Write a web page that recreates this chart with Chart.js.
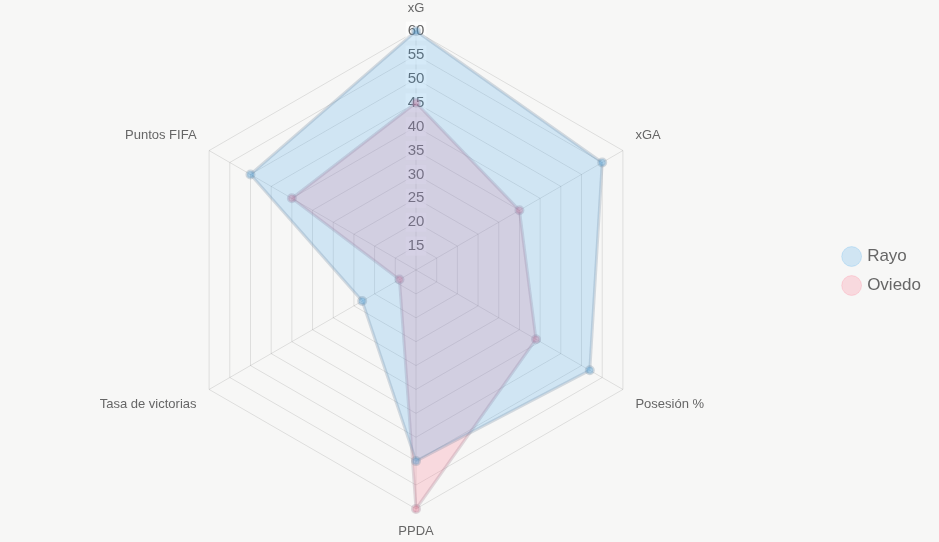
<!DOCTYPE html>
<html>
<head>
<meta charset="utf-8">
<script src="https://cdn.jsdelivr.net/npm/chart.js@4"></script>
<style>
  html, body { margin: 0; padding: 0; background: #f7f7f6; }
  #wrap { width: 939px; height: 542px; }
</style>
</head>
<body>
<div id="wrap"><canvas id="radarChart"></canvas></div>
<script>
const labels = ['xG', 'xGA', 'Posesión %', 'PPDA', 'Tasa de victorias', 'Puntos FIFA'];
const rayo = [60, 55, 52, 50, 23, 50];
const oviedo = [45, 35, 39, 60, 14, 40];

new Chart(document.getElementById('radarChart'), {
  type: 'radar',
  data: {
    labels,
    datasets: [{
      label: 'Rayo',
      data: rayo,
      backgroundColor: 'rgba(54, 162, 235, 0.2)',
      borderColor: 'rgba(110, 135, 160, 0.28)',
      borderWidth: 3,
      pointBackgroundColor: 'rgba(54, 162, 235, 0.3)',
      pointBorderColor: 'rgba(110, 135, 160, 0.3)',
      pointRadius: 3.5,
    }, {
      label: 'Oviedo',
      data: oviedo,
      backgroundColor: 'rgba(255, 99, 132, 0.2)',
      borderColor: 'rgba(160, 125, 145, 0.28)',
      borderWidth: 3,
      pointBackgroundColor: 'rgba(255, 99, 132, 0.3)',
      pointBorderColor: 'rgba(160, 125, 145, 0.3)',
      pointRadius: 3.5,
    }]
  },
  options: {
    responsive: true,
    maintainAspectRatio: false,
    animation: false,
    layout: { padding: { top: 2, bottom: 2, right: 8 } },
    plugins: {
      legend: {
        position: 'right',
        labels: {
          usePointStyle: true,
          pointStyle: 'circle',
          boxWidth: 14,
          boxHeight: 14,
          padding: 12,
          color: '#666',
          font: { size: 17 },
          generateLabels(chart) {
            return chart.data.datasets.map((ds, i) => ({
              text: ds.label,
              fillStyle: ds.backgroundColor,
              strokeStyle: ds.backgroundColor,
              lineWidth: 1,
              pointStyle: 'circle',
              fontColor: '#666',
              datasetIndex: i,
              hidden: !chart.isDatasetVisible(i)
            }));
          }
        }
      }
    },
    scales: {
      r: {
        min: 10,
        max: 60,
        ticks: {
          stepSize: 5,
          color: '#666',
          font: { size: 15 },
          backdropColor: 'rgba(255, 255, 255, 0.6)'
        },
        grid: { color: 'rgba(0, 0, 0, 0.1)' },
        angleLines: { color: 'rgba(0, 0, 0, 0.1)' },
        pointLabels: { color: '#666', font: { size: 13 } }
      }
    }
  }
});
</script>
</body>
</html>
